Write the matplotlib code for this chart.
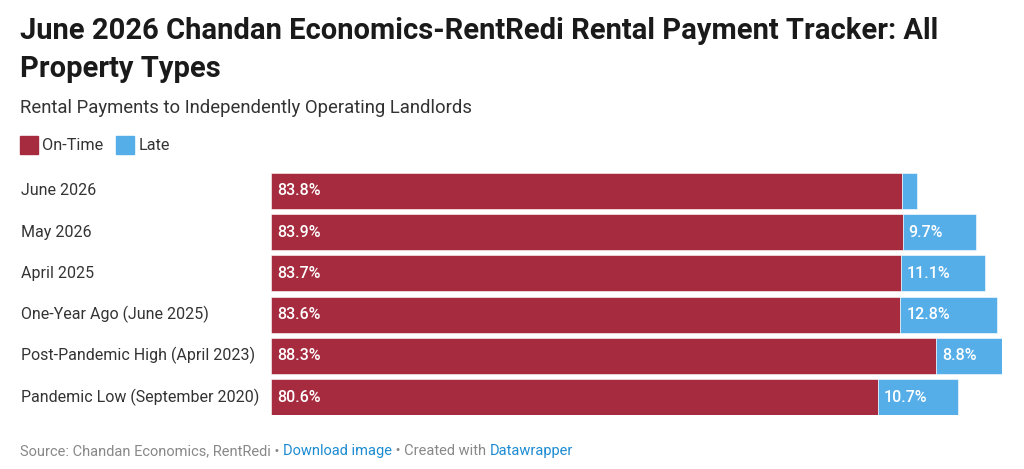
import matplotlib
matplotlib.use("Agg")
import matplotlib.pyplot as plt
from matplotlib.patches import Rectangle
from matplotlib.transforms import blended_transform_factory

plt.rcParams['font.family'] = ['Roboto', 'DejaVu Sans']

categories = ["June 2026", "May 2026", "April 2025", "One-Year Ago (June 2025)",
              "Post-Pandemic High (April 2023)", "Pandemic Low (September 2020)"]
on_time = [83.8, 83.9, 83.7, 83.6, 88.3, 80.6]
late = [2.0, 9.7, 11.1, 12.8, 8.8, 10.7]
late_labels = ["", "9.7%", "11.1%", "12.8%", "8.8%", "10.7%"]

RED = "#a62b3e"
BLUE = "#56aee9"
W, H = 1024, 469

fig = plt.figure(figsize=(W / 100, H / 100), dpi=100)
fig.patch.set_facecolor("white")

def fx(px):
    return px / W

def fy(py):
    return 1 - py / H

ax = fig.add_axes([fx(271), fy(415), fx(1002) - fx(271), fy(173) - fy(415)])
ypos = list(range(len(categories)))
ax.barh(ypos, on_time, height=0.87, color=RED, edgecolor="white", linewidth=0.4)
ax.barh(ypos, late, left=on_time, height=0.87, color=BLUE, edgecolor="white", linewidth=0.4)
ax.set_xlim(0, max(a + b for a, b in zip(on_time, late)))
ax.set_ylim(len(categories) - 0.565, -0.435)
ax.axis("off")

for i, (o, l, ll) in enumerate(zip(on_time, late, late_labels)):
    ax.text(0.8, i, f"{o}%", color="white", fontsize=11.5, fontweight="medium",
            va="center", ha="left")
    if ll:
        ax.text(o + 0.8, i, ll, color="white", fontsize=11.5, fontweight="medium",
                va="center", ha="left")

tr = blended_transform_factory(fig.transFigure, ax.transData)
for i, c in enumerate(categories):
    ax.text(fx(21), i, c, transform=tr, color="#333333", fontsize=11.5,
            va="center", ha="left")

# Title and subtitle
fig.text(fx(20), fy(31), "June 2026 Chandan Economics-RentRedi Rental Payment Tracker: All",
         fontsize=21, fontweight="bold", color="#1a1a1a", va="center", ha="left")
fig.text(fx(20), fy(69), "Property Types",
         fontsize=21, fontweight="bold", color="#1a1a1a", va="center", ha="left")
fig.text(fx(20), fy(108), "Rental Payments to Independently Operating Landlords",
         fontsize=13.3, color="#333333", va="center", ha="left")

# Legend
fig.patches.append(Rectangle((fx(20), fy(154)), fx(18), fy(136) - fy(154),
                             transform=fig.transFigure, color=RED))
fig.text(fx(42), fy(145), "On-Time", fontsize=11.7, color="#333333", va="center", ha="left")
fig.patches.append(Rectangle((fx(116), fy(154)), fx(18), fy(136) - fy(154),
                             transform=fig.transFigure, color=BLUE))
fig.text(fx(139), fy(145), "Late", fontsize=11.7, color="#333333", va="center", ha="left")

# Footer
parts = [("Source: Chandan Economics, RentRedi \u2022 ", "#888888"),
         ("Download image", "#1d8bd1"),
         (" \u2022 Created with ", "#888888"),
         ("Datawrapper", "#1d8bd1")]
fig.canvas.draw()
renderer = fig.canvas.get_renderer()
x = fx(20)
for s, col in parts:
    t = fig.text(x, fy(451), s, fontsize=10.5, color=col, va="center", ha="left")
    bb = t.get_window_extent(renderer)
    x += bb.width / W

fig.savefig("out.png", dpi=100, facecolor="white")
